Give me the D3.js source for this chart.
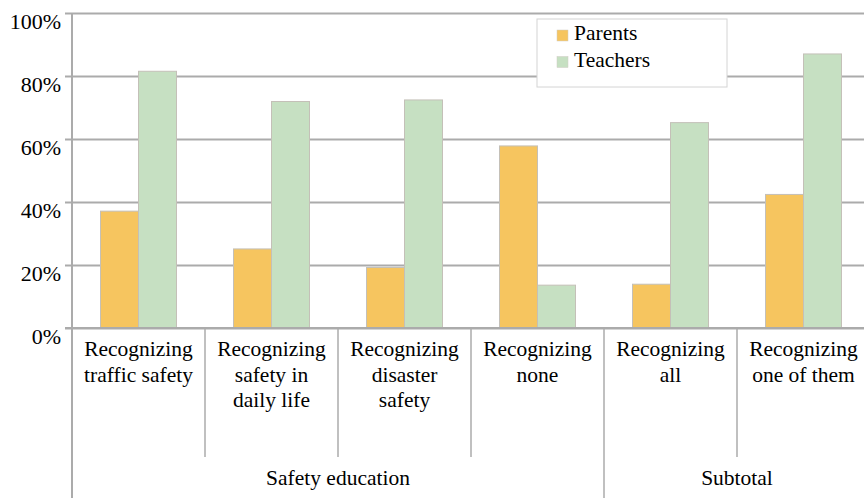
<!DOCTYPE html>
<html>
<head>
<meta charset="utf-8">
<script src="https://cdn.jsdelivr.net/npm/d3@7"></script>
<style>
  #s text { font-family: "Liberation Serif", "Times New Roman", Times, serif !important; }
</style>
</head>
<body style="margin:0">
<svg id="s" width="864" height="498"></svg>
<script>
// Share of respondents recognizing each kind of safety education
const categories = [
  ["Recognizing", "traffic safety"],
  ["Recognizing", "safety in", "daily life"],
  ["Recognizing", "disaster", "safety"],
  ["Recognizing", "none"],
  ["Recognizing", "all"],
  ["Recognizing", "one of them"]
];
const seriesNames = ["Parents", "Teachers"];
const parents  = [37.1, 25.1, 19.2, 57.8, 13.9, 42.4];
const teachers = [81.5, 71.9, 72.4, 13.6, 65.2, 87.0];
const groups = [
  { label: "Safety education", from: 0, to: 3 },
  { label: "Subtotal", from: 4, to: 5 }
];
const yTicks = [0, 20, 40, 60, 80, 100];

const colors = { Parents: "#F6C55F", Teachers: "#C6E0C2" };
const gridColor = "#ABABAB";

const svg = d3.select("#s");
const plotLeft = 72, plotRight = 870, plotTop = 13, plotBottom = 328;

const keys = categories.map((c, i) => i);
const x0 = d3.scaleBand().domain(keys).range([plotLeft, plotRight]).paddingInner(0).paddingOuter(0);
const x1 = d3.scaleBand().domain(seriesNames).range([0, x0.bandwidth()]).paddingInner(0).paddingOuter(0.75);
const y = d3.scaleLinear().domain([0, 100]).range([plotBottom, plotTop]);

// serif label, styled the same way everywhere
function label(parent, str, x, yy, size, anchor) {
  return parent.append("text")
    .style("font-family", "'Liberation Serif'")
    .style("font-size", size + "px")
    .attr("x", x).attr("y", yy)
    .attr("text-anchor", anchor)
    .text(str);
}

// horizontal gridlines with short ticks left of the axis (labels drawn separately)
const yAxis = d3.axisLeft(y).tickValues(yTicks).tickSize(-(plotRight - plotLeft)).tickSizeOuter(0)
  .tickFormat("");
const ga = svg.append("g").attr("transform", `translate(${plotLeft},0)`).call(yAxis);
ga.select(".domain").remove();
ga.selectAll(".tick text").remove();
ga.selectAll(".tick line")
  .attr("x1", -7)
  .attr("stroke", gridColor)
  .attr("stroke-width", 2);
yTicks.forEach(t => label(svg, t + "%", plotLeft - 11, y(t) + 15.5, 22, "end"));

// bars
const rows = keys.map(i => ({ i, values: [
  { s: "Parents", v: parents[i] },
  { s: "Teachers", v: teachers[i] }
]}));
const gBars = svg.append("g");
gBars.selectAll("g").data(rows).join("g")
  .attr("transform", d => `translate(${x0(d.i)},0)`)
  .selectAll("rect").data(d => d.values).join("rect")
  .attr("x", d => x1(d.s))
  .attr("width", x1.bandwidth())
  .attr("y", d => y(d.v))
  .attr("height", d => y(0) - y(d.v))
  .attr("fill", d => colors[d.s])
  .attr("stroke", "#C4C0B8")
  .attr("stroke-width", 1);

// baseline and left axis line
svg.append("line").attr("x1", plotLeft - 7).attr("x2", plotRight).attr("y1", y(0)).attr("y2", y(0))
  .attr("stroke", gridColor).attr("stroke-width", 2);
svg.append("line").attr("x1", plotLeft).attr("x2", plotLeft).attr("y1", plotTop).attr("y2", 498)
  .attr("stroke", gridColor).attr("stroke-width", 2);

// category separators
const groupEdges = new Set(groups.map(g => g.from));
keys.forEach(i => {
  if (i === 0) return;
  const xx = x0(i);
  svg.append("line").attr("x1", xx).attr("x2", xx)
    .attr("y1", y(0)).attr("y2", groupEdges.has(i) ? 498 : 457)
    .attr("stroke", gridColor).attr("stroke-width", 1.5);
});

// category labels
categories.forEach((lines, i) => {
  const cx = x0(i) + x0.bandwidth() / 2;
  lines.forEach((ln, k) => label(svg, ln, cx, 356 + k * 25.5, 21.5, "middle"));
});

// group labels
groups.forEach(g => {
  const cx = (x0(g.from) + x0(g.to) + x0.bandwidth()) / 2;
  label(svg, g.label, cx, 485, 21.5, "middle");
});

// legend
const lg = svg.append("g").attr("transform", "translate(537,19)");
lg.append("rect").attr("width", 190).attr("height", 68)
  .attr("fill", "#fff").attr("stroke", "#D4D4D4").attr("stroke-width", 1);
seriesNames.forEach((s, k) => {
  lg.append("rect").attr("x", 20).attr("y", 11 + k * 26.5).attr("width", 11).attr("height", 11)
    .attr("fill", colors[s]).attr("stroke", "#D0CCC4").attr("stroke-width", 0.5);
  label(lg, s, 37, 21 + k * 26.5, 21.5, "start");
});
</script>
</body>
</html>
